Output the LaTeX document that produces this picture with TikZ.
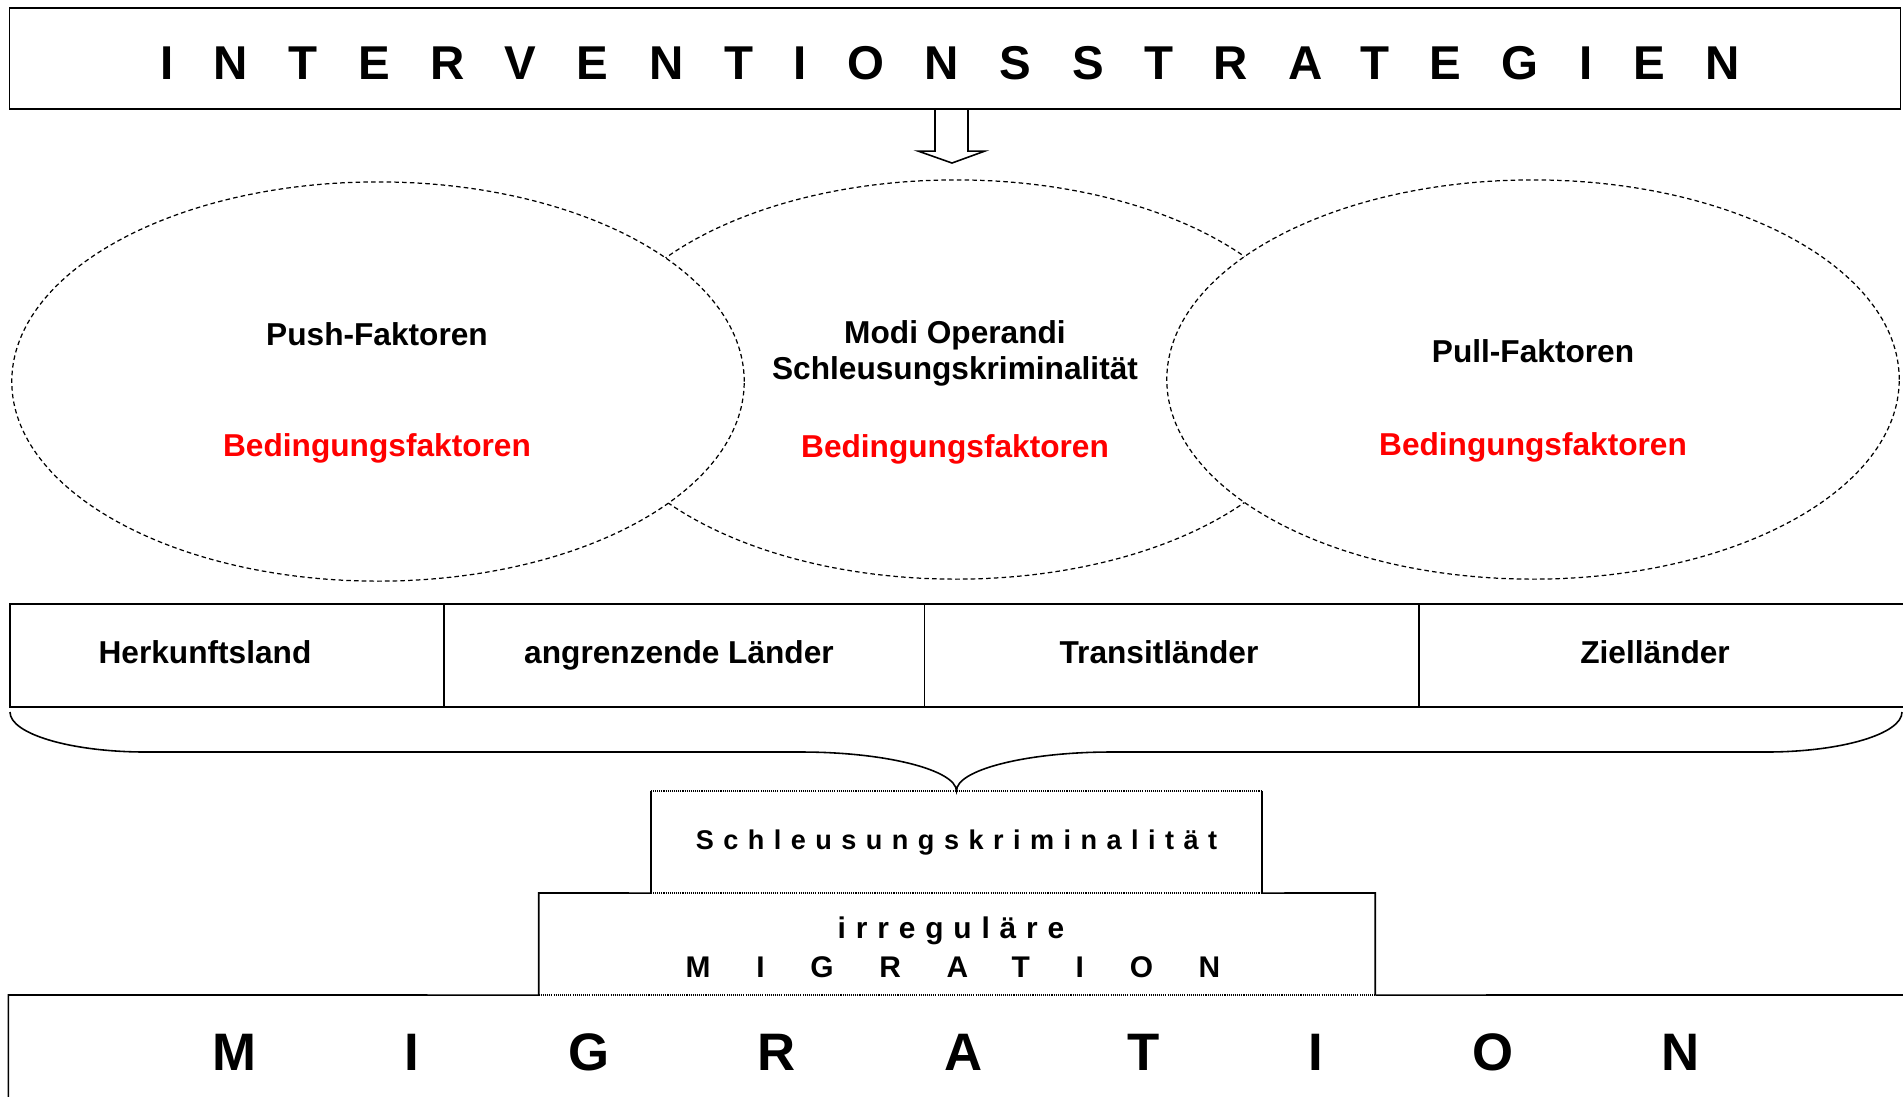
\documentclass[tikz,border=0pt]{standalone}
\usepackage{fontspec}
\setmainfont{Liberation Sans}
\usetikzlibrary{shapes.geometric,positioning,calc}
\definecolor{bedRed}{RGB}{255,0,0}

\begin{document}
\begin{tikzpicture}[
  x=0.01cm, y=-0.01cm,
  framebox/.style={draw, line width=0.45pt, inner sep=0pt, outer sep=0pt},
  cell/.style={draw, line width=0.5pt, inner sep=0pt, outer sep=0pt,
               minimum height=1.03cm},
  factor/.style={ellipse, draw, line width=0.35pt, dash pattern=on 1.3pt off 0.9pt,
                 minimum width=7.32cm, minimum height=3.99cm, inner sep=0pt},
  lbl/.style={font=\fontsize{9}{10.8}\selectfont\bfseries, inner sep=0pt, anchor=base},
  cond/.style={lbl, text=bedRed},
  stepbox/.style={inner sep=0pt, outer sep=0pt, minimum height=1.02cm, align=center},
  dotline/.style={line width=0.35pt, dash pattern=on 0.3pt off 0.3pt},
  solidline/.style={line width=0.45pt}
]
  \clip (0,0) rectangle (1903,1096);

  % Kopf
  \node[framebox, minimum width=18.9cm, minimum height=1.01cm, text height=0.42cm,
        font=\fontsize{13.5}{16}\selectfont\bfseries\addfontfeature{LetterSpace=85.5}]
        (strat) at (955,58.5) {INTERVENTIONSSTRATEGIEN\hspace*{0.1cm}};
  \draw[solidline] ([xshift=-0.2cm]strat.south) -- ++(0,42) -- ++(-17,0) -- ++(34,12)
        -- ++(33,-12) -- ++(-17,0) -- ++(0,-42);

  % Faktoren
  \node[factor] (modi) at (956,379.5) {};
  \node[factor, fill=white] (push) at (378,381.5) {};
  \node[factor, fill=white] (pull) at (1533,379.5) {};

  \node[lbl] (pushT) at (377,345) {Push-Faktoren};
  \node[cond] (pushB) at (377,456) {Bedingungsfaktoren};
  \node[lbl] (modiT) at (955,343) {Modi Operandi};
  \node[lbl] (modiS) at (955,379) {Schleusungskriminalität};
  \node[cond] (modiB) at (955,457) {Bedingungsfaktoren};
  \node[lbl] (pullT) at (1533,362) {Pull-Faktoren};
  \node[cond] (pullB) at (1533,455) {Bedingungsfaktoren};

  % Laender
  \node[cell, minimum width=4.34cm] (herkunft) at (227,655.5) {};
  \node[cell, minimum width=4.8cm, right=0pt of herkunft] (nachbar) {};
  \node[cell, minimum width=4.94cm, right=0pt of nachbar] (transit) {};
  \node[cell, minimum width=4.92cm, right=0pt of transit] (ziel) {};

  \node[lbl] (herkunftT) at (205,663) {Herkunftsland};
  \node[lbl] (nachbarT) at (679,663) {angrenzende Länder};
  \node[lbl] (transitT) at (1159,663) {Transitländer};
  \node[lbl] (zielT) at (1655,663) {Zielländer};

  % Treppe
  \node[stepbox, minimum width=6.11cm, text height=0.21cm,
        font=\fontsize{7.7}{9}\selectfont\bfseries\addfontfeature{LetterSpace=35}]
        (schleus) at (956.5,842) {Schleusungskriminalität};
  \node[stepbox, minimum width=8.36cm,
        font=\fontsize{8.5}{10.9}\selectfont\bfseries]
        (irreg) at (957,944) {\rule{0pt}{0.28cm}{\addfontfeature{LetterSpace=33}irreguläre}\hspace*{0.12cm}\\
                              {\addfontfeature{LetterSpace=153}MIGRATION}\hspace*{0.08cm}};
  \node[stepbox, minimum width=18.94cm, minimum height=1.15cm,
        font=\fontsize{15}{18}\selectfont\bfseries\addfontfeature{LetterSpace=282}]
        (migr) at (956,1052.5) {MIGRATION};

  \coordinate (braceL) at (10,712);
  \coordinate (braceR) at (1902,712);
  \draw[solidline] (braceL) .. controls (10,734) and (71,752) .. (146,752) -- (801,752)
        .. controls (886,752) and (956,770) .. (schleus.north)
        .. controls (956,770) and (1026,752) .. (1111,752) -- (1766,752)
        .. controls (1841,752) and (1902,734) .. (braceR);

  \draw[dotline] (schleus.north west) -- (schleus.north east);
  \draw[solidline] (schleus.north west) -- (schleus.south west)
                   (schleus.north east) -- (schleus.south east);
  \draw[dotline] (schleus.south west) -- (schleus.south east);
  \draw[solidline] (schleus.south west) -- (irreg.north west) -- (irreg.south west);
  \draw[solidline] (schleus.south east) -- (irreg.north east) -- (irreg.south east);
  \draw[dotline] (irreg.south west) -- (irreg.south east);
  \draw[solidline] (irreg.south west) -- (migr.north west) -- (migr.south west);
  \draw[solidline] (irreg.south east) -- (migr.north east);
\end{tikzpicture}
\end{document}
